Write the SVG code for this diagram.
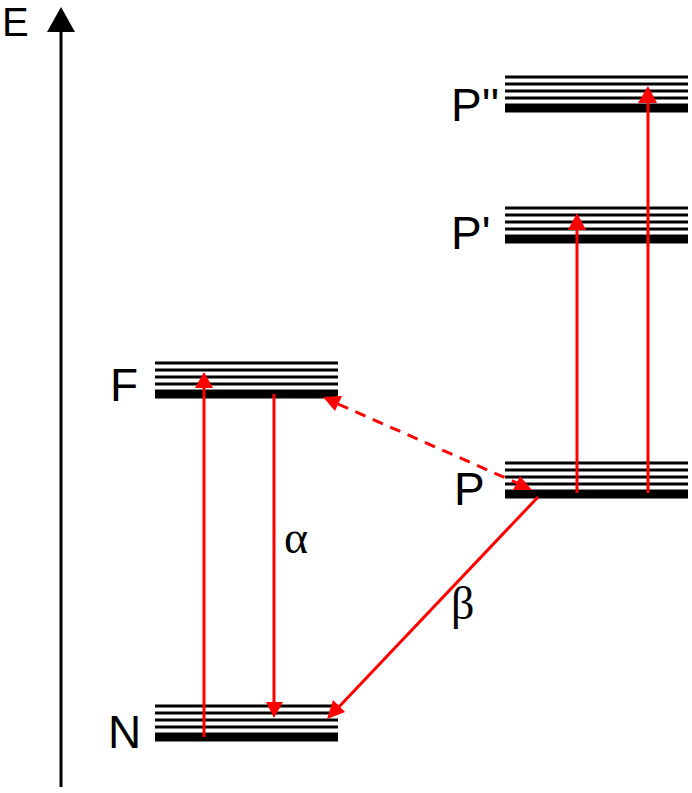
<svg xmlns="http://www.w3.org/2000/svg" width="692" height="793" viewBox="0 0 692 793">
<style>
.lbl{font-family:"Liberation Sans",Arial,sans-serif;font-size:46px;fill:#000}
.grk{font-family:"Liberation Serif","Times New Roman",serif;font-size:46px;fill:#000}
.thin{stroke:#000;stroke-width:3}
.thick{stroke:#000;stroke-width:9}
.red{stroke:#ff0000;stroke-width:3;fill:none}
.head{fill:#ff0000}
</style>
<defs>
<g id="stack">
<line class="thin" x1="0" y1="0" x2="183" y2="0"/>
<line class="thin" x1="0" y1="7" x2="183" y2="7"/>
<line class="thin" x1="0" y1="14" x2="183" y2="14"/>
<line class="thin" x1="0" y1="21" x2="183" y2="21"/>
<line class="thick" x1="0" y1="31" x2="183" y2="31"/>
</g>
</defs>
<rect width="692" height="793" fill="#fff"/>
<g id="axis">
<line x1="61" y1="30" x2="61" y2="787" stroke="#000" stroke-width="3"/>
<polygon points="61,7 47,32 75,32" fill="#000"/>
<text x="2" y="36" class="lbl" style="font-size:40px">E</text>
</g>
<g id="level-N">
<use href="#stack" x="155" y="706"/>
<text x="108" y="748" class="lbl">N</text>
</g>
<g id="level-F">
<use href="#stack" x="155" y="363"/>
<text x="110" y="401" class="lbl">F</text>
</g>
<g id="level-P">
<use href="#stack" x="505" y="463"/>
<text x="454" y="505" class="lbl">P</text>
</g>
<g id="level-P1">
<use href="#stack" x="505" y="208"/>
<text x="451" y="249" class="lbl">P'</text>
</g>
<g id="level-P2">
<use href="#stack" x="505" y="77"/>
<text x="451" y="121" class="lbl">P''</text>
</g>
<g id="connectors">
<line class="red" x1="204" y1="737" x2="204" y2="386"/>
<polygon class="head" points="204,372 195,388 213,388"/>
<line class="red" x1="274" y1="394" x2="274" y2="704"/>
<polygon class="head" points="274,718 266,702 283,702"/>
<line class="red" x1="577" y1="493" x2="577" y2="229"/>
<polygon class="head" points="577,213 568,230 586,230"/>
<line class="red" x1="648" y1="493" x2="648" y2="102"/>
<polygon class="head" points="648,86 638,103 657,103"/>
<line class="red" x1="538" y1="497" x2="336" y2="710"/>
<polygon class="head" points="327,719 345,712 333,700"/>
<line class="red" x1="338" y1="404" x2="517" y2="483" stroke-dasharray="11 8"/>
<polygon class="head" points="323,397 342,396 335,411"/>
<polygon class="head" points="532,490 520,476 513,490"/>
</g>
<g id="labels">
<text x="284" y="553" class="grk">α</text>
<text x="451" y="619" class="grk">β</text>
</g>
</svg>
